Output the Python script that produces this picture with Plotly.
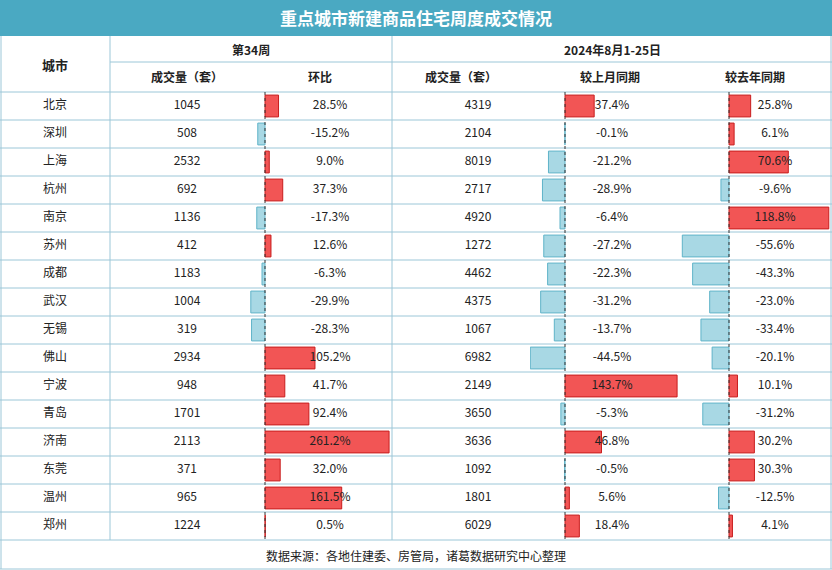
import plotly.graph_objects as go

# data
cities = ["北京", "深圳", "上海", "杭州", "南京", "苏州", "成都", "武汉", "无锡", "佛山",
          "宁波", "青岛", "济南", "东莞", "温州", "郑州"]
week_vol = [1045, 508, 2532, 692, 1136, 412, 1183, 1004, 319, 2934, 948, 1701, 2113, 371, 965, 1224]
week_chg = [28.5, -15.2, 9.0, 37.3, -17.3, 12.6, -6.3, -29.9, -28.3, 105.2, 41.7, 92.4, 261.2, 32.0, 161.5, 0.5]
month_vol = [4319, 2104, 8019, 2717, 4920, 1272, 4462, 4375, 1067, 6982, 2149, 3650, 3636, 1092, 1801, 6029]
mom_chg = [37.4, -0.1, -21.2, -28.9, -6.4, -27.2, -22.3, -31.2, -13.7, -44.5, 143.7, -5.3, 46.8, -0.5, 5.6, 18.4]
yoy_chg = [25.8, 6.1, 70.6, -9.6, 118.8, -55.6, -43.3, -23.0, -33.4, -20.1, 10.1, -31.2, 30.2, 30.3, -12.5, 4.1]

W, H = 832, 570
px = lambda v: v / W
py = lambda v: 1 - v / H

rows = list(range(len(cities)))
FONT = "Noto Sans CJK SC"
RED, RED_LINE = "#f25555", "#c81e1e"
BLUE, BLUE_LINE = "#a8d8e4", "#5fb3c8"
GRID = "#9cc7d8"

fig = go.Figure()

def bars(vals, xa):
    fig.add_trace(go.Bar(
        x=vals, y=rows, orientation="h", width=0.78, xaxis=xa, yaxis="y",
        marker=dict(color=[RED if v >= 0 else BLUE for v in vals],
                    line=dict(color=[RED_LINE if v >= 0 else BLUE_LINE for v in vals], width=1)),
        hoverinfo="skip", showlegend=False))

bars(week_chg, "x")
bars(mom_chg, "x2")
bars(yoy_chg, "x3")

def col_text(xpix, labels):
    fig.add_trace(go.Scatter(
        x=[xpix / W] * len(labels), y=rows, mode="text", text=labels, xaxis="x4", yaxis="y",
        textfont=dict(family=FONT, size=12, color="#222"), hoverinfo="skip", showlegend=False))

col_text(55, cities)
col_text(187, [str(v) for v in week_vol])
col_text(330, [f"{v:.1f}%" for v in week_chg])
col_text(478, [str(v) for v in month_vol])
col_text(612, [f"{v:.1f}%" for v in mom_chg])
col_text(775, [f"{v:.1f}%" for v in yoy_chg])

ydom = [py(540), py(92)]
noax = dict(showgrid=False, zeroline=False, showticklabels=False, fixedrange=True)
fig.update_layout(
    width=W, height=H, margin=dict(l=0, r=0, t=0, b=0),
    paper_bgcolor="white", plot_bgcolor="rgba(0,0,0,0)", barmode="overlay",
    yaxis=dict(domain=ydom, range=[15.5, -0.5], **noax),
    xaxis=dict(domain=[px(240), px(392)], range=[-25 / 0.475, 127 / 0.475], **noax),
    xaxis2=dict(domain=[px(530), px(690)], range=[-35 / 0.78, 125 / 0.78], **noax),
    xaxis3=dict(domain=[px(680), px(832)], range=[-49 / 0.84, 103 / 0.84], **noax),
    xaxis4=dict(domain=[0, 1], range=[0, 1], **noax),
)

shapes = []
# title bar
shapes.append(dict(type="rect", xref="paper", yref="paper", x0=0, x1=1, y0=py(36), y1=1,
                   fillcolor="#4aa9c2", line=dict(width=0), layer="below"))
# horizontal lines
for yy in [62] + [92 + 28 * i for i in range(17)] + [569]:
    x0 = 110 if yy == 62 else 0
    shapes.append(dict(type="line", xref="paper", yref="paper", x0=px(x0), x1=1,
                       y0=py(yy), y1=py(yy), line=dict(color=GRID, width=1)))
# vertical lines
for xx, y_end in [(1, 569), (110, 540), (392, 540), (831, 569)]:
    shapes.append(dict(type="line", xref="paper", yref="paper", x0=px(xx), x1=px(xx),
                       y0=py(y_end), y1=py(36), line=dict(color=GRID, width=1)))
# zero lines
for xa in ["x", "x2", "x3"]:
    shapes.append(dict(type="line", xref=xa, yref="y", x0=0, x1=0, y0=-0.5, y1=15.5,
                       line=dict(color="#333", width=1, dash="dot")))
fig.update_layout(shapes=shapes)

ann = [
    dict(x=0.5, y=py(18), text="<b>重点城市新建商品住宅周度成交情况</b>",
         font=dict(family=FONT, size=17, color="white")),
    dict(x=px(55), y=py(64), text="<b>城市</b>", font=dict(family=FONT, size=13, color="#222")),
    dict(x=px(251), y=py(49), text="<b>第34周</b>", font=dict(family=FONT, size=12, color="#222")),
    dict(x=px(612), y=py(49), text="<b>2024年8月1-25日</b>", font=dict(family=FONT, size=12, color="#222")),
    dict(x=px(187), y=py(77), text="<b>成交量（套）</b>", font=dict(family=FONT, size=12, color="#222")),
    dict(x=px(320), y=py(77), text="<b>环比</b>", font=dict(family=FONT, size=12, color="#222")),
    dict(x=px(461), y=py(77), text="<b>成交量（套）</b>", font=dict(family=FONT, size=12, color="#222")),
    dict(x=px(610), y=py(77), text="<b>较上月同期</b>", font=dict(family=FONT, size=12, color="#222")),
    dict(x=px(755), y=py(77), text="<b>较去年同期</b>", font=dict(family=FONT, size=12, color="#222")),
    dict(x=0.5, y=py(555), text="数据来源：各地住建委、房管局，诸葛数据研究中心整理",
         font=dict(family=FONT, size=12, color="#222")),
]
for a in ann:
    a.update(xref="paper", yref="paper", showarrow=False, xanchor="center", yanchor="middle")
fig.update_layout(annotations=ann)

fig.write_html("out.html", post_script="document.body.style.margin='0';",
               config={"displayModeBar": False})
